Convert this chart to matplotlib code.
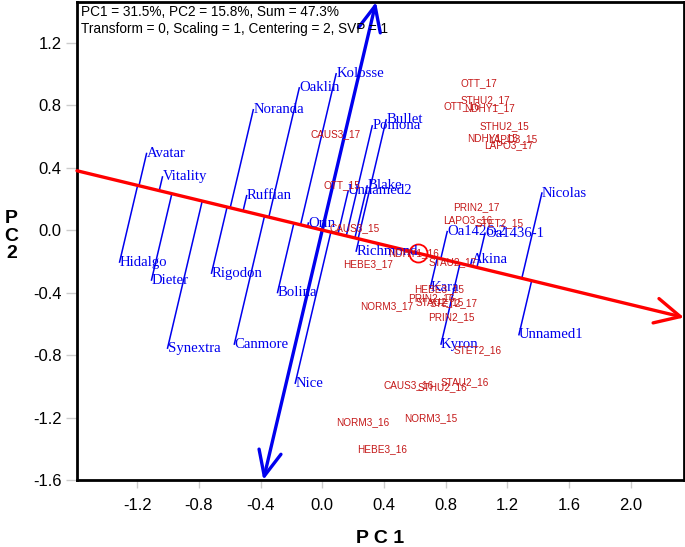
import numpy as np
import matplotlib.pyplot as plt
from matplotlib.patches import FancyArrowPatch

# genotype scores (PC1, PC2)
geno_names = ['Kolosse', 'Oaklin', 'Noranda', 'Avatar', 'Vitality', 'Ruffian',
              'Hidalgo', 'Dieter', 'Rigodon', 'Bolina', 'Synextra', 'Canmore',
              'Nice', 'Orin', 'Pomona', 'Bullet', 'Blake', 'Unnamed2',
              'Richmond', 'Oa1426-2', 'Oa1436-1', 'Akina', 'Kara', 'Kyron',
              'Unnamed1', 'Nicolas']
geno_x = [0.09, -0.149, -0.447, -1.139, -1.036, -0.49,
          -1.314, -1.107, -0.718, -0.29, -1.003, -0.57,
          -0.175, -0.09, 0.324, 0.414, 0.291, 0.168,
          0.22, 0.81, 1.055, 0.97, 0.70, 0.77,
          1.275, 1.424]
geno_y = [1.0, 0.91, 0.77, 0.49, 0.34, 0.22,
          -0.205, -0.32, -0.276, -0.40, -0.756, -0.73,
          -0.98, 0.045, 0.667, 0.705, 0.282, 0.25,
          -0.135, -0.01, -0.02, -0.19, -0.37, -0.73,
          -0.67, 0.237]

# environment scores (PC1, PC2)
env_names = ['OTT_17', 'STHU2_17', 'OTT_16', 'NDHY1_17', 'STHU2_15', 'NDHY1_15',
             'LAPO3_15', 'LAPO3_17', 'CAUS3_17', 'OTT_15', 'CAUS3_15', 'PRIN2_17',
             'LAPO3_16', 'STET2_15', 'NDHY1_16', 'HEBE3_17', 'STAU2_17', 'HEBE3_15',
             'PRIN2_16', 'STAU2_15', 'STET2_17', 'NORM3_17', 'PRIN2_15', 'STET2_16',
             'CAUS3_16', 'STHU2_16', 'STAU2_16', 'NORM3_16', 'NORM3_15', 'HEBE3_16']
env_x = [1.016, 1.06, 0.906, 1.087, 1.18, 1.107,
         1.237, 1.21, 0.084, 0.13, 0.207, 1.0,
         0.946, 1.15, 0.59, 0.30, 0.845, 0.757,
         0.71, 0.76, 0.85, 0.42, 0.84, 1.01,
         0.557, 0.78, 0.926, 0.26, 0.705, 0.39]
env_y = [0.94, 0.83, 0.795, 0.78, 0.667, 0.59,
         0.583, 0.545, 0.615, 0.29, 0.013, 0.147,
         0.064, 0.045, -0.147, -0.22, -0.205, -0.38,
         -0.435, -0.46, -0.465, -0.49, -0.56, -0.77,
         -0.99, -1.007, -0.975, -1.23, -1.205, -1.40]

avg_env = (0.62, -0.148)

info = ['PC1 = 31.5%, PC2 = 15.8%, Sum = 47.3%',
        'Transform = 0, Scaling = 1, Centering = 2, SVP = 1']

xticks = [-1.2, -0.8, -0.4, 0.0, 0.4, 0.8, 1.2, 1.6, 2.0]
yticks = [-1.6, -1.2, -0.8, -0.4, 0.0, 0.4, 0.8, 1.2]

xmin, xmax = -1.59, 2.345
ymin, ymax = -1.60, 1.46

BLUE = '#0000ee'
RED = '#ff0000'
ENV_RED = '#c41818'

plt.rcParams['font.family'] = ['Liberation Sans', 'DejaVu Sans']

fig = plt.figure(figsize=(6.85, 5.47), dpi=100)
ax = fig.add_axes([0.1124, 0.1225, 0.8861, 0.8739])
ax.set_xlim(xmin, xmax)
ax.set_ylim(ymin, ymax)

# average environment axis direction
u = np.array(avg_env) / np.hypot(*avg_env)
v = np.array([-u[1], u[0]])

# projections of genotypes onto the AEA
for gx, gy in zip(geno_x, geno_y):
    d = gx * u[0] + gy * u[1]
    px, py = d * u[0], d * u[1]
    ax.plot([gx, px], [gy, py], color=BLUE, lw=1.1, zorder=2)

# average environment axis (red arrow)
p_left = u * (xmin / u[0])
p_right = u * (xmax / u[0])
arr = FancyArrowPatch(tuple(p_left), tuple(p_right),
                      arrowstyle='->,head_length=1.0,head_width=0.5',
                      mutation_scale=18, color=RED, lw=2.4,
                      shrinkA=0, shrinkB=0, zorder=4, clip_on=False)
ax.add_patch(arr)

# ATC ordinate (blue double arrow)
p_top = v * (ymax / v[1])
p_bot = v * (ymin / v[1])
arr2 = FancyArrowPatch(tuple(p_bot), tuple(p_top),
                       arrowstyle='<->,head_length=1.0,head_width=0.45',
                       mutation_scale=18, color=BLUE, lw=2.4,
                       shrinkA=0, shrinkB=0, zorder=3, clip_on=False)
ax.add_patch(arr2)

# average environment marker
ax.plot(avg_env[0], avg_env[1], 'o', ms=13, mfc='none', mec=RED, mew=1.3, zorder=5)

for name, gx, gy in zip(geno_names, geno_x, geno_y):
    ax.text(gx, gy, name, color=BLUE, fontsize=10.6, ha='left', va='center',
            family=['Liberation Serif', 'DejaVu Serif'], zorder=6)

for name, ex, ey in zip(env_names, env_x, env_y):
    ax.text(ex, ey, name, color=ENV_RED, fontsize=7.2, ha='center', va='center', zorder=6)

ax.text(0.006, 0.993, '\n'.join(info), transform=ax.transAxes, fontsize=9.8,
        ha='left', va='top', linespacing=1.25, zorder=7)

ax.set_xticks(xticks)
ax.set_yticks(yticks)
ax.set_xticklabels(['%.1f' % t for t in xticks])
ax.set_yticklabels(['%.1f' % t for t in yticks])
ax.tick_params(axis='x', direction='out', length=6, width=1, color='#cccccc',
               labelsize=12, pad=7)
ax.tick_params(axis='y', direction='out', length=8, width=1, color='#cccccc',
               labelsize=12, pad=3)

for s in ax.spines.values():
    s.set_linewidth(2)
    s.set_color('black')

ax.set_xlabel('P C 1', fontsize=14, fontweight='bold', va='center')
ax.xaxis.set_label_coords(0.5, -0.123)
ax.set_ylabel('P\nC\n2', fontsize=14, fontweight='bold', rotation=0,
              va='center', ha='center', linespacing=1.05)
ax.yaxis.set_label_coords(-0.108, 0.51)

fig.savefig('out.png', dpi=100)
